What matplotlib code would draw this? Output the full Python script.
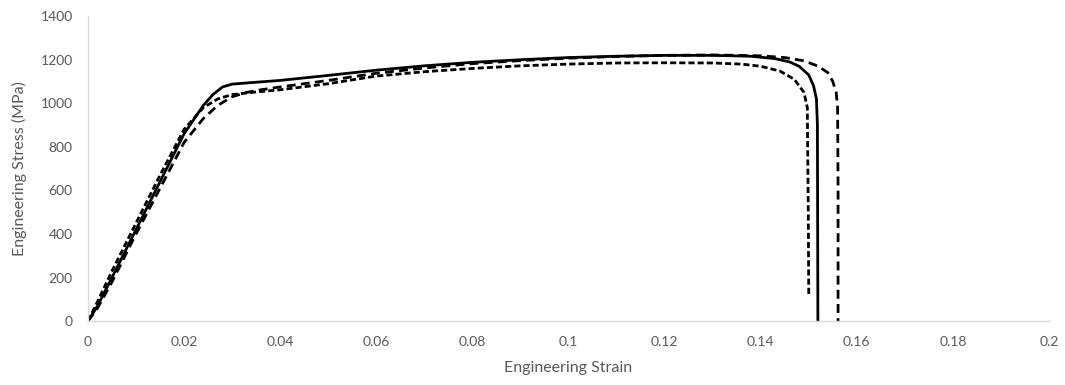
import numpy as np
import matplotlib.pyplot as plt

# specimen 1 (solid)
strain_a = [0, 0.002, 0.005, 0.010, 0.015, 0.020, 0.024, 0.026, 0.028, 0.030, 0.034,
            0.040, 0.050, 0.060, 0.070, 0.080, 0.090, 0.100, 0.110, 0.120, 0.130,
            0.138, 0.143, 0.146, 0.148, 0.1500, 0.1510, 0.1516, 0.1518, 0.1519]
stress_a = [0, 70, 200, 420, 640, 860, 990, 1040, 1075, 1088, 1095,
            1105, 1128, 1152, 1172, 1188, 1200, 1210, 1216, 1220, 1220,
            1216, 1205, 1190, 1170, 1130, 1080, 1020, 900, 0]

# specimen 2 (short dashes)
strain_b = [0, 0.002, 0.005, 0.010, 0.015, 0.020, 0.024, 0.027, 0.030, 0.035, 0.040,
            0.050, 0.060, 0.070, 0.080, 0.090, 0.100, 0.110, 0.120, 0.130, 0.136,
            0.140, 0.144, 0.147, 0.149, 0.1497, 0.1499, 0.1500]
stress_b = [0, 90, 230, 450, 670, 880, 980, 1020, 1040, 1052, 1062,
            1090, 1125, 1145, 1160, 1172, 1180, 1185, 1186, 1185, 1180,
            1170, 1148, 1110, 1050, 980, 500, 120]

# specimen 3 (long dashes)
strain_c = [0, 0.002, 0.005, 0.010, 0.015, 0.020, 0.024, 0.027, 0.030, 0.033, 0.036,
            0.040, 0.050, 0.060, 0.070, 0.080, 0.090, 0.100, 0.110, 0.120, 0.130,
            0.140, 0.145, 0.149, 0.152, 0.154, 0.155, 0.1557, 0.1560, 0.1561, 0.1561]
stress_c = [0, 60, 180, 400, 610, 820, 930, 990, 1030, 1050, 1062,
            1075, 1105, 1138, 1162, 1182, 1196, 1207, 1215, 1220, 1222,
            1218, 1210, 1195, 1170, 1140, 1100, 1050, 980, 600, 0]

x_ticks = [0, 0.02, 0.04, 0.06, 0.08, 0.1, 0.12, 0.14, 0.16, 0.18, 0.2]
x_labels = ['0', '0.02', '0.04', '0.06', '0.08', '0.1', '0.12', '0.14', '0.16', '0.18', '0.2']
y_ticks = [0, 200, 400, 600, 800, 1000, 1200, 1400]

txt = '#595959'
plt.rcParams['font.family'] = ['Lato', 'DejaVu Sans']

fig = plt.figure(figsize=(10.65, 3.85), dpi=100)
ax = fig.add_axes([0.0826, 0.166, 0.9024, 0.792])

ax.plot(strain_a, stress_a, color='black', lw=2, solid_joinstyle='round')
ax.plot(strain_b, stress_b, color='black', lw=2, linestyle=(0, (2.2, 1.1)))
ax.plot(strain_c, stress_c, color='black', lw=2, linestyle=(0, (3.2, 1.9)))

ax.set_xlim(0, 0.2)
ax.set_ylim(0, 1400)
ax.set_xticks(x_ticks)
ax.set_xticklabels(x_labels)
ax.set_yticks(y_ticks)
ax.tick_params(length=0, labelsize=10, colors=txt)
ax.tick_params(axis='x', pad=11)
ax.tick_params(axis='y', pad=11)
for s in ['top', 'right']:
    ax.spines[s].set_visible(False)
for s in ['left', 'bottom']:
    ax.spines[s].set_color('#d9d9d9')
    ax.spines[s].set_linewidth(1)

ax.set_xlabel('Engineering Strain', fontsize=11.5, color=txt, labelpad=9)
ax.set_ylabel('Engineering Stress (MPa)', fontsize=11.5, color=txt, labelpad=10)

fig.savefig('out.png', dpi=100)
